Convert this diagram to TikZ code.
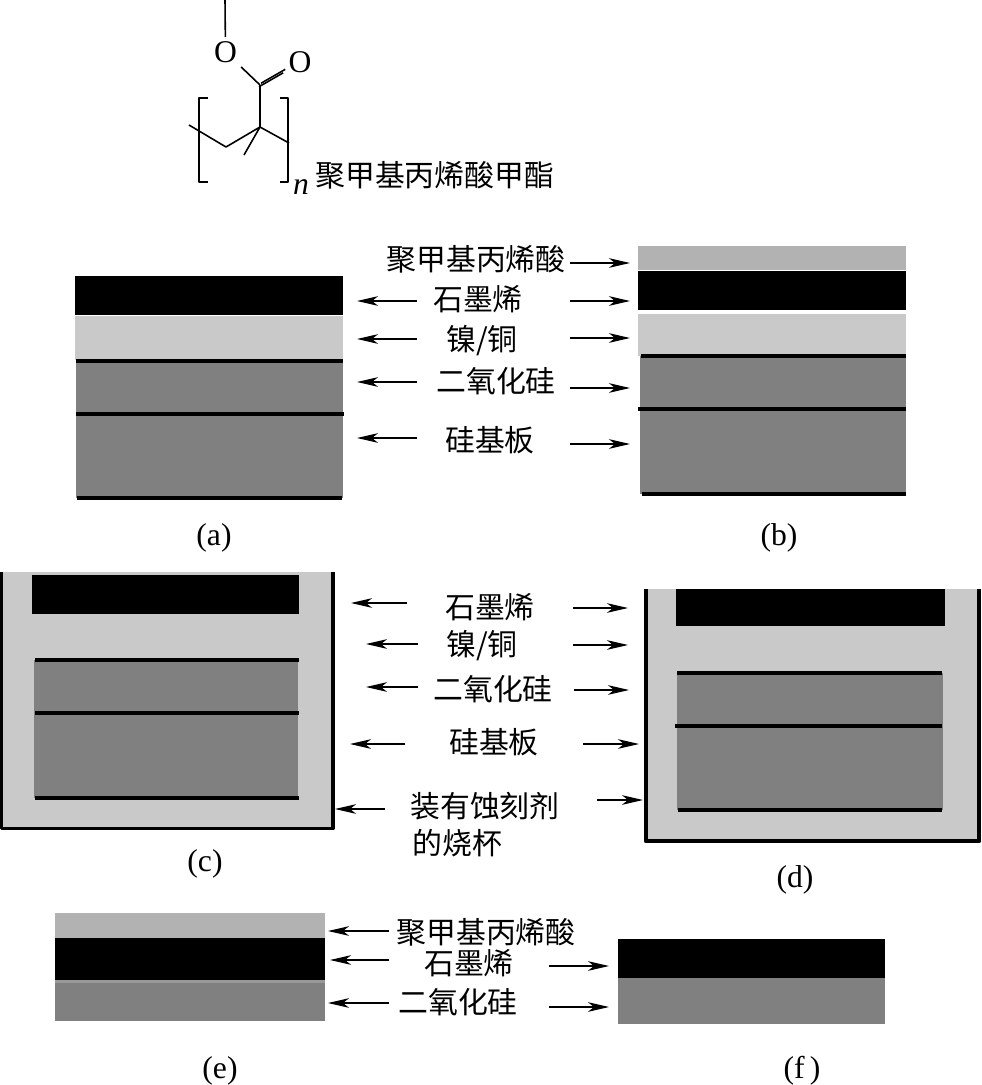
\documentclass[tikz,border=0pt]{standalone}
\usepackage{fontspec}
\setmainfont{Liberation Serif}
\newfontfamily\cjk{Noto Sans CJK SC}
\usetikzlibrary{arrows.meta}
\definecolor{lightlayer}{gray}{0.79}
\definecolor{darklayer}{gray}{0.50}
\definecolor{topfilm}{gray}{0.70}
\definecolor{seamband}{gray}{0.60}
\tikzset{
	zh/.style={inner sep=0pt, font=\cjk\fontsize{17}{19}\selectfont},
	sublabel/.style={inner sep=0pt, font=\fontsize{18}{20}\selectfont},
	atom/.style={inner sep=0pt, outer sep=2.5pt, font=\fontsize{18}{20}\selectfont},
	bond/.style={line width=0.9pt},
	heavy/.style={line width=1.9pt},
	lead/.style={line width=0.7pt, -{Stealth[length=12pt,width=5.5pt,inset=3.5pt]}}
}
\begin{document}
\begin{tikzpicture}[x=0.02cm, y=-0.02cm, line join=round]
	\useasboundingbox (0,0) rectangle (981,1085);
	% molecule
	\coordinate (Me) at (225,0);
	\node[atom] (O1) at (225.5,52) {O};
	\node[atom] (O2) at (300,62) {O};
	\coordinate (C1) at (260,85);
	\coordinate (C2) at (260,127);
	\coordinate (C3) at (226,147);
	\coordinate (C4) at (189,125);
	\coordinate (C5) at (289,143);
	\coordinate (C6) at (244,155);
	\coordinate (L1) at (208,98);
	\coordinate (L2) at (199,98);
	\coordinate (L3) at (199,182);
	\coordinate (L4) at (208,182);
	\coordinate (R1) at (280,98);
	\coordinate (R2) at (288,98);
	\coordinate (R3) at (288,182);
	\coordinate (R4) at (280,182);
	\draw[bond] (Me)--(O1) (O1)--(C1);
	\draw[bond] (C1)--(C2)--(C3)--(C4) (C2)--(C5) (C2)--(C6);
	\draw[bond, transform canvas={xshift=-0.6pt, yshift=-1pt}] (C1)--(O2);
	\draw[bond, transform canvas={xshift=0.6pt, yshift=1pt}] (C1)--(O2);
	\draw[bond] (L1)--(L2)--(L3)--(L4);
	\draw[bond] (R1)--(R2)--(R3)--(R4);
	\node[atom, font=\itshape\fontsize{18}{20}\selectfont] (n) at (301,187) {n};
	\node[zh, anchor=west] (pmma) at (315,175) {聚甲基丙烯酸甲酯};
	% (a)
	\fill[black] (75,276) rectangle (343,315);
	\fill[lightlayer] (75,316) rectangle (343,360);
	\fill[darklayer] (76,360) rectangle (343,498);
	\draw[heavy] (76,361)--(343,361) (76,414)--(344,414) (77,498)--(342,498);
	% (b)
	\fill[topfilm] (638,246) rectangle (906,270);
	\fill[black] (638,271) rectangle (906,310);
	\fill[lightlayer] (638,314) rectangle (906,356);
	\fill[darklayer] (640,356) rectangle (906,494);
	\draw[heavy] (641,356)--(906,356) (638,409)--(906,409) (642,494)--(906,494);
	% (c)
	\fill[lightlayer] (0,572) rectangle (334,829);
	\draw[line width=2pt] (1.5,572)--(1.5,828.5)--(333,828.5)--(333,572);
	\fill[black] (32,575) rectangle (299,614);
	\fill[darklayer] (34,660) rectangle (298,798);
	\draw[heavy] (35,660)--(299,660) (35,713)--(299,713) (35,798)--(299,798);
	% (d)
	\fill[lightlayer] (644,589) rectangle (981,843);
	\draw[line width=2.2pt] (646,589)--(646,841)--(979,841)--(979,589);
	\fill[black] (676,589) rectangle (945,626);
	\fill[darklayer] (677,673) rectangle (943,810);
	\draw[heavy] (677,673)--(942,673) (675,726)--(942,726) (678,810)--(942,810);
	% (e)
	\fill[topfilm] (55,913) rectangle (325,938);
	\fill[black] (55,938) rectangle (325,980);
	\fill[seamband] (55,980) rectangle (325,983);
	\fill[darklayer] (55,983) rectangle (325,1021);
	% (f)
	\fill[black] (618,939) rectangle (885,978);
	\fill[darklayer] (618,978) rectangle (885,1024);
	% labels
	\node[zh] (topfilm b) at (476,259) {聚甲基丙烯酸};
	\node[zh] (gr ab) at (478,299) {石墨烯};
	\node[zh] (ni ab) at (482,341) {镍/铜};
	\node[zh] (ox ab) at (496,381) {二氧化硅};
	\node[zh] (si ab) at (490,440) {硅基板};
	\node[zh] (gr cd) at (490,607) {石墨烯};
	\node[zh] (ni cd) at (482,646) {镍/铜};
	\node[zh] (ox cd) at (493,689) {二氧化硅};
	\node[zh] (si cd) at (494,742) {硅基板};
	\node[zh] (beaker1) at (485,806) {装有蚀刻剂};
	\node[zh, anchor=west] (beaker2) at (412,843) {的烧杯};
	\node[zh] (topfilm e) at (486,932) {聚甲基丙烯酸};
	\node[zh] (gr ef) at (469,963) {石墨烯};
	\node[zh] (ox ef) at (458,1002) {二氧化硅};
	\node[sublabel] (capa) at (214,538) {(a)};
	\node[sublabel] (capb) at (779,538) {(b)};
	\node[sublabel] (capc) at (205,864) {(c)};
	\node[sublabel] (capd) at (795,880) {(d)};
	\node[sublabel] (cape) at (220,1071) {(e)};
	\node[sublabel] (capf) at (802,1071) {(f\,)};
	% arrows: tail, head
	\foreach \nm/\xt/\xh/\y in {a1/417/357/301, a2/417/357/339, a3/417/357/382, a4/417/357/438,
		b0/570/630/263, b1/570/630/301, b2/570/630/338, b3/570/630/388, b4/570/630/444,
		c1/407/351/603, c2/418/366/644, c3/418/366/687, c4/405/350/744, c5/385/335/809,
		d1/573/628/608, d2/573/628/645, d3/574/629/690, d4/583/639/744, d5/597/643/800,
		e0/389/328/931, e1/389/330/960, e2/389/328/1003, f1/549/609/966, f2/549/609/1007}{
		\coordinate (\nm t) at (\xt,\y);
		\coordinate (\nm h) at (\xh,\y);
		\draw[lead] (\nm t)--(\nm h);
	}
\end{tikzpicture}
\end{document}
